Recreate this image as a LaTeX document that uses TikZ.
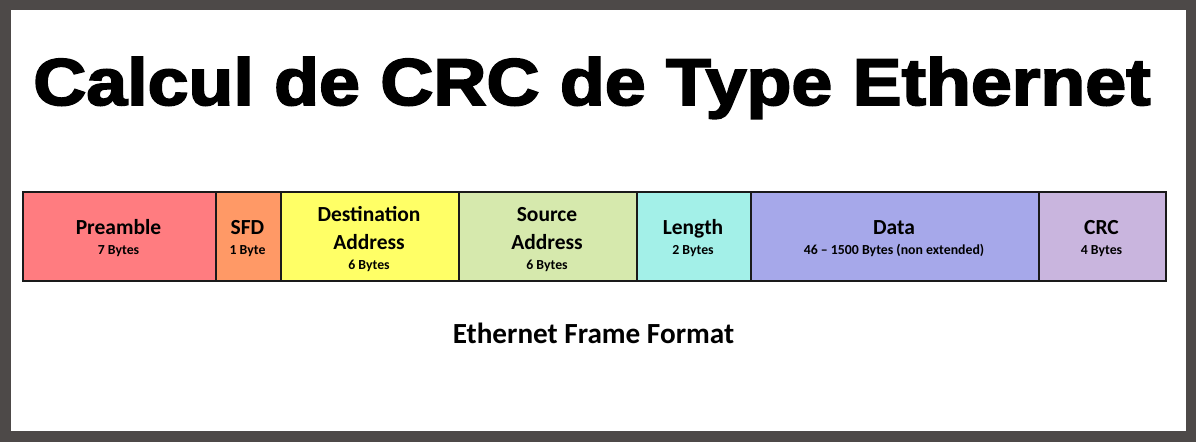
\documentclass[tikz,border=0pt]{standalone}
\usepackage{fontspec}
\usepackage{graphicx}
\setmainfont{Carlito}
\newfontfamily\titlefont[FakeBold=2.6]{Liberation Sans Bold}
\definecolor{frameborder}{HTML}{4D4948}
\definecolor{cpre}{HTML}{FF7C80}
\definecolor{csfd}{HTML}{FF9966}
\definecolor{cdst}{HTML}{FFFF66}
\definecolor{csrc}{HTML}{D6E9AD}
\definecolor{clen}{HTML}{A3F0E8}
\definecolor{cdat}{HTML}{A6A8EA}
\definecolor{ccrc}{HTML}{C9B5DE}
\definecolor{outline}{HTML}{1A1A1A}
\tikzset{
  field/.style={draw=outline, line width=1.8pt, minimum height=89pt, inner sep=0pt, anchor=north west},
  big/.style={anchor=base, inner sep=0pt, font=\fontsize{21.5}{21.5}\selectfont\bfseries},
  small/.style={anchor=base, inner sep=0pt, font=\fontsize{13.8}{13.8}\selectfont\bfseries},
}
\begin{document}
\begin{tikzpicture}[x=1pt,y=-1pt]
\useasboundingbox (0,0) rectangle (1196,442);
\fill[frameborder] (0,0) rectangle (1196,442);
\fill[white] (11,10) rectangle (1186,431);
% title
\node[anchor=base, inner sep=0pt] (title) at (592,105)
  {\resizebox{1117pt}{48pt}{\titlefont Calcul de CRC de Type Ethernet}};
% fields
\node[field, fill=cpre, minimum width=193pt] (pre) at (22,191) {};
\node[field, fill=csfd, minimum width=65pt] (sfd) at (215,191) {};
\node[field, fill=cdst, minimum width=178pt] (dst) at (280,191) {};
\node[field, fill=csrc, minimum width=178pt] (src) at (458,191) {};
\node[field, fill=clen, minimum width=114pt] (len) at (636,191) {};
\node[field, fill=cdat, minimum width=288pt] (dat) at (750,191) {};
\node[field, fill=ccrc, minimum width=127pt] (crc) at (1038,191) {};
% labels
\node[big] (preA) at (118.5,234.3) {Preamble};
\node[small] (preB) at (118.5,254) {7 Bytes};
\node[big] (sfdA) at (247.5,234.3) {SFD};
\node[small] (sfdB) at (247.5,254) {1 Byte};
\node[big] (dstA) at (369,221.7) {Destination};
\node[big] (dstB) at (369,249) {Address};
\node[small] (dstC) at (369,269.3) {6 Bytes};
\node[big] (srcA) at (547,221.7) {Source};
\node[big] (srcB) at (547,249) {Address};
\node[small] (srcC) at (547,269.3) {6 Bytes};
\node[big] (lenA) at (693,234.3) {Length};
\node[small] (lenB) at (693,254) {2 Bytes};
\node[big] (datA) at (894,234.3) {Data};
\node[small] (datB) at (894,254.5) {46 – 1500 Bytes (non extended)};
\node[big] (crcA) at (1101.5,234.3) {CRC};
\node[small] (crcB) at (1101.5,254) {4 Bytes};
% caption
\node[anchor=base, inner sep=0pt, font=\fontsize{29.2}{29.2}\selectfont\bfseries] (cap) at (593.5,343.3) {Ethernet Frame Format};
\end{tikzpicture}
\end{document}
